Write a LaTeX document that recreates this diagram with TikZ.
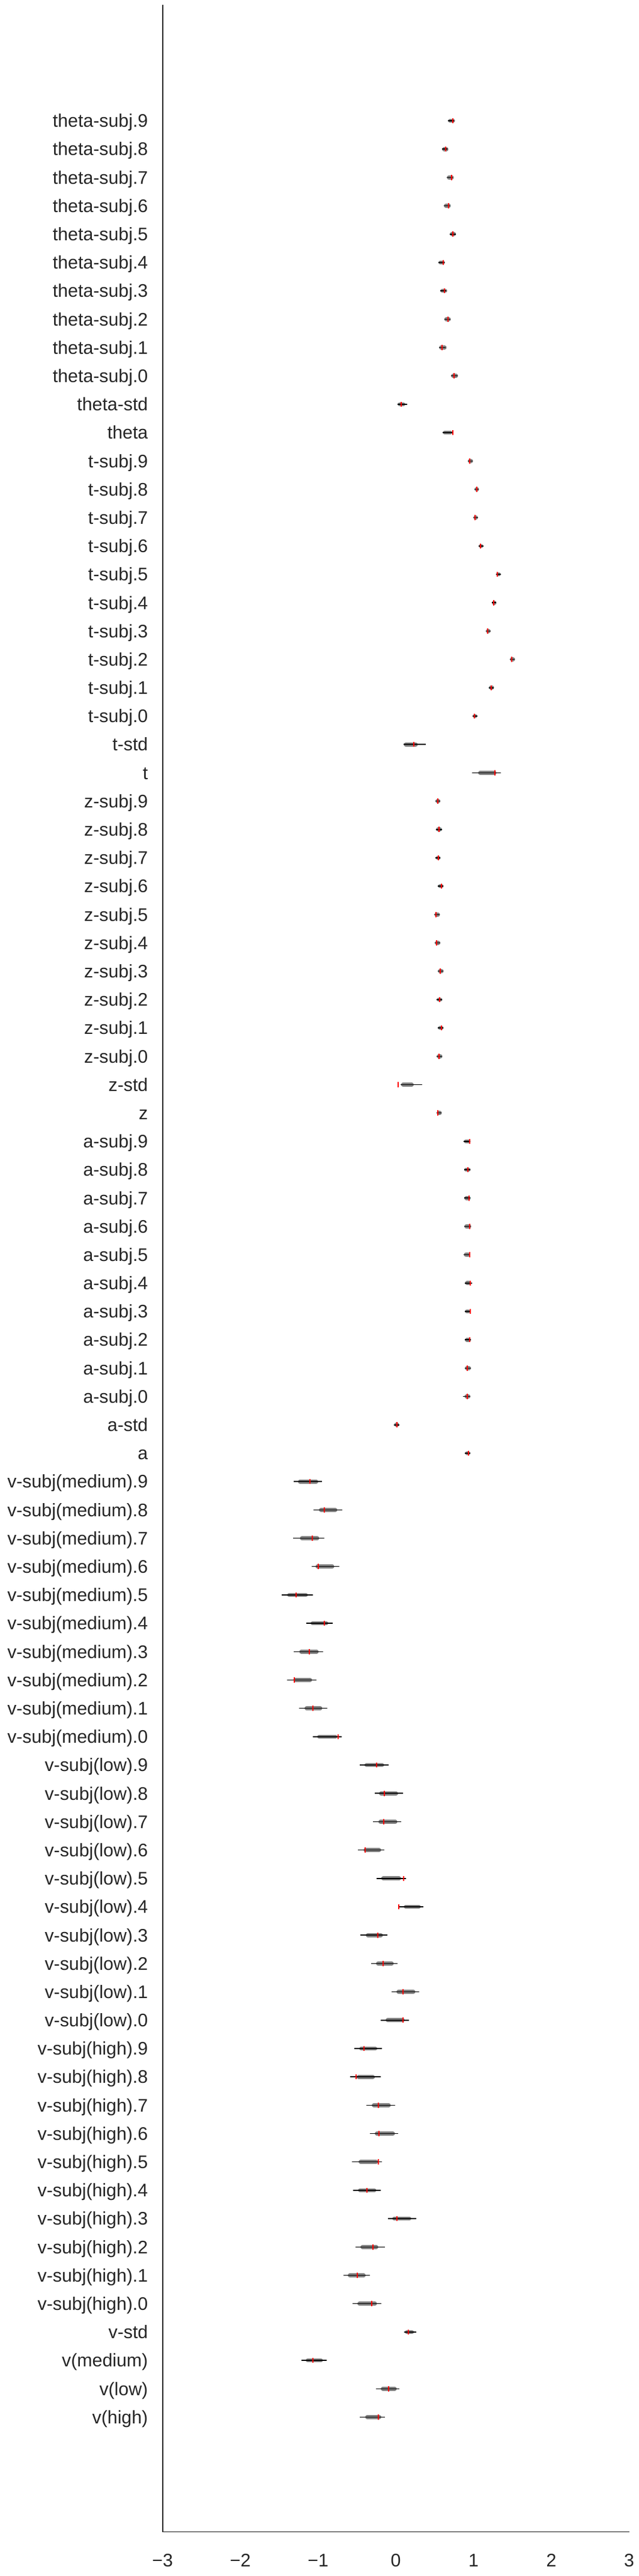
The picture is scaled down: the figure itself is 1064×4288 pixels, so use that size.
\documentclass[tikz,border=0pt]{standalone}
\usepackage{fontspec}
\setmainfont{Liberation Sans}
\definecolor{axcol}{RGB}{38,38,38}
\definecolor{midgrey}{RGB}{128,128,128}
\begin{document}
\begin{tikzpicture}[x=1pt,y=-1pt,
  spine/.style={draw=axcol,line width=1.6pt},
  ylab/.style={anchor=base east,inner sep=0pt,text=axcol,font=\fontsize{30.3}{36}\selectfont},
  xlab/.style={anchor=base,inner sep=0pt,text=axcol,font=\fontsize{30.3}{36}\selectfont},
  q50/.style={draw=midgrey,line width=6.7pt,line cap=round},
  q95/.style={draw=black,line width=1.5pt},
  truth/.style={draw=red,line width=2pt}]
\path[use as bounding box,fill=white] (0,0) rectangle (1064,4288);
% spines
\coordinate (top) at (270.7,8.3);
\coordinate (corner) at (270.7,4214.3);
\coordinate (right) at (1047.5,4214.3);
\draw[spine] (top) -- (corner) -- (right);
% x tick labels
\foreach \v/\t in {-3/{−3},-2/{−2},-1/{−1},0/0,1/1,2/2,3/3}{
  \pgfmathsetmacro{\xx}{659.1+129.5*\v}
  \node[xlab] (xt\v) at (\xx,4272.7) {\t};
}
% y labels
\foreach \k/\txt in {
0/theta-subj.9,1/theta-subj.8,2/theta-subj.7,3/theta-subj.6,4/theta-subj.5,
5/theta-subj.4,6/theta-subj.3,7/theta-subj.2,8/theta-subj.1,9/theta-subj.0,
10/theta-std,11/theta,
12/t-subj.9,13/t-subj.8,14/t-subj.7,15/t-subj.6,16/t-subj.5,
17/t-subj.4,18/t-subj.3,19/t-subj.2,20/t-subj.1,21/t-subj.0,
22/t-std,23/t,
24/z-subj.9,25/z-subj.8,26/z-subj.7,27/z-subj.6,28/z-subj.5,
29/z-subj.4,30/z-subj.3,31/z-subj.2,32/z-subj.1,33/z-subj.0,
34/z-std,35/z,
36/a-subj.9,37/a-subj.8,38/a-subj.7,39/a-subj.6,40/a-subj.5,
41/a-subj.4,42/a-subj.3,43/a-subj.2,44/a-subj.1,45/a-subj.0,
46/a-std,47/a,
48/{v-subj(medium).9},49/{v-subj(medium).8},50/{v-subj(medium).7},51/{v-subj(medium).6},52/{v-subj(medium).5},
53/{v-subj(medium).4},54/{v-subj(medium).3},55/{v-subj(medium).2},56/{v-subj(medium).1},57/{v-subj(medium).0},
58/{v-subj(low).9},59/{v-subj(low).8},60/{v-subj(low).7},61/{v-subj(low).6},62/{v-subj(low).5},
63/{v-subj(low).4},64/{v-subj(low).3},65/{v-subj(low).2},66/{v-subj(low).1},67/{v-subj(low).0},
68/{v-subj(high).9},69/{v-subj(high).8},70/{v-subj(high).7},71/{v-subj(high).6},72/{v-subj(high).5},
73/{v-subj(high).4},74/{v-subj(high).3},75/{v-subj(high).2},76/{v-subj(high).1},77/{v-subj(high).0},
78/v-std,79/{v(medium)},80/{v(low)},81/{v(high)}}{
  \pgfmathsetmacro{\yy}{201+47.19*\k+10.8}
  \node[ylab] (lab\k) at (246.5,\yy) {\txt};
}
% posterior quantiles: k / 2.5% / 97.5% / 25% / 75% / true value
\foreach \k/\bl/\br/\gl/\gr/\r in {
0/746/756/746/757.7/754,
1/736/745/736/746.7/742.3,
2/744/754/744/755.7/751.7,
3/739/749/739/750.7/746.7,
4/749/759/749/759.3/754.3,
5/730/740/730/741/737.7,
6/733/743/733/744.7/740,
7/739.7/750/739.7/750.7/746,
8/731/742/731/743.7/735.7,
9/751/762/751/762.7/756,
10/662/677.7/662/675/668,
11/736.7/753.3/737.3/753.3/754,
12/779/787/779/787.7/781.7,
13/790/797/790/797.7/793.7,
14/788.3/795.5/788.3/796/791,
15/797/804.5/797/805/800,
16/826/834/826/834/827.7,
17/819/826/819/826.7/822,
18/809/816.5/809/817/812,
19/849/857/849/857.7/852,
20/814/822/814/822.7/817.7,
21/787/794.5/787/795/790,
22/672.3/708.7/672.3/695.7/688.7,
23/786/833.7/796/826.7/824,
24/725/733/725/733.3/728.7,
25/726/735.5/726/736/731,
26/725.3/733/725.3/733.7/729.7,
27/729/738/729/738.7/734.7,
28/723.3/732/723.3/732.7/725.7,
29/724/733/724/733.3/726.7,
30/729/738/729/738.7/732.7,
31/727/736/727/736.7/732,
32/729/738/729/738.7/734.7,
33/727/736/727/736.7/730.7,
34/667/702.7/667.7/689/662.7,
35/727/735/727/735.7/728.7,
36/772.3/783/772.3/783.7/782,
37/772.7/783/772.7/783.7/778.7,
38/773/783/773/783.7/780.7,
39/773/784/773/784.7/782,
40/772.3/782.5/772.3/783/782,
41/774.3/786/774.3/784.3/783,
42/774/783/774/783.3/783,
43/774/784/774/784.3/782,
44/774/784/774/784.3/778,
45/771/783/773.3/783.3/778,
46/656.3/664.5/656.3/664.7/660.7,
47/774.3/783/774.3/783.3/780,
48/489/535.7/496/530/516,
49/522/569.7/531/561.7/540,
50/488/539.7/499.3/531.7/520,
51/519/564.7/525.3/556.7/530,
52/469/520.7/478/512.7/492.7,
53/510/553.7/517/546.7/540,
54/489/537.7/498.3/530.7/515,
55/478/526.7/488.3/519.7/490,
56/498/544.7/507/536.7/521,
57/521/568.7/528/562/563,
58/599/647/606.7/639.7/627,
59/624/670.7/631/663/640,
60/621/668/630/661.7/639,
61/596/640/605.3/634.7/608,
62/627/676/634.7/668/672,
63/664/705/672.3/700.7/664,
64/600/644.7/609/637.7/629,
65/618/661.7/626/655.7/638,
66/652/697.7/660/691.7/671,
67/634/681/642/674/671,
68/590/636/598/628.3/606,
69/583/634/593.7/624.3/593,
70/610/658/619/650.7/630,
71/616/662.7/624/657.7/631,
72/586/636/597/629.7/630,
73/588/634/596/626.7/611,
74/646/693/653/685/661,
75/592/641/600/630/621,
76/572/616/579/609/595,
77/587/635/595/627.7/619,
78/673/693/674/689.3/680,
79/502/544/509/537.7/521,
80/626/665/634/660.7/647,
81/599/641/608/635/630}{
  \pgfmathsetmacro{\yy}{201+47.19*\k}
  \pgfmathsetmacro{\ga}{\gl+3.35}
  \pgfmathsetmacro{\gb}{\gr-3.35}
  \draw[q50] (\ga,\yy) -- (\gb,\yy);
  \draw[q95] (\bl,\yy) -- (\br,\yy);
  \draw[truth] (\r,\yy-4.3) -- (\r,\yy+4.3);
}
\end{tikzpicture}
\end{document}
